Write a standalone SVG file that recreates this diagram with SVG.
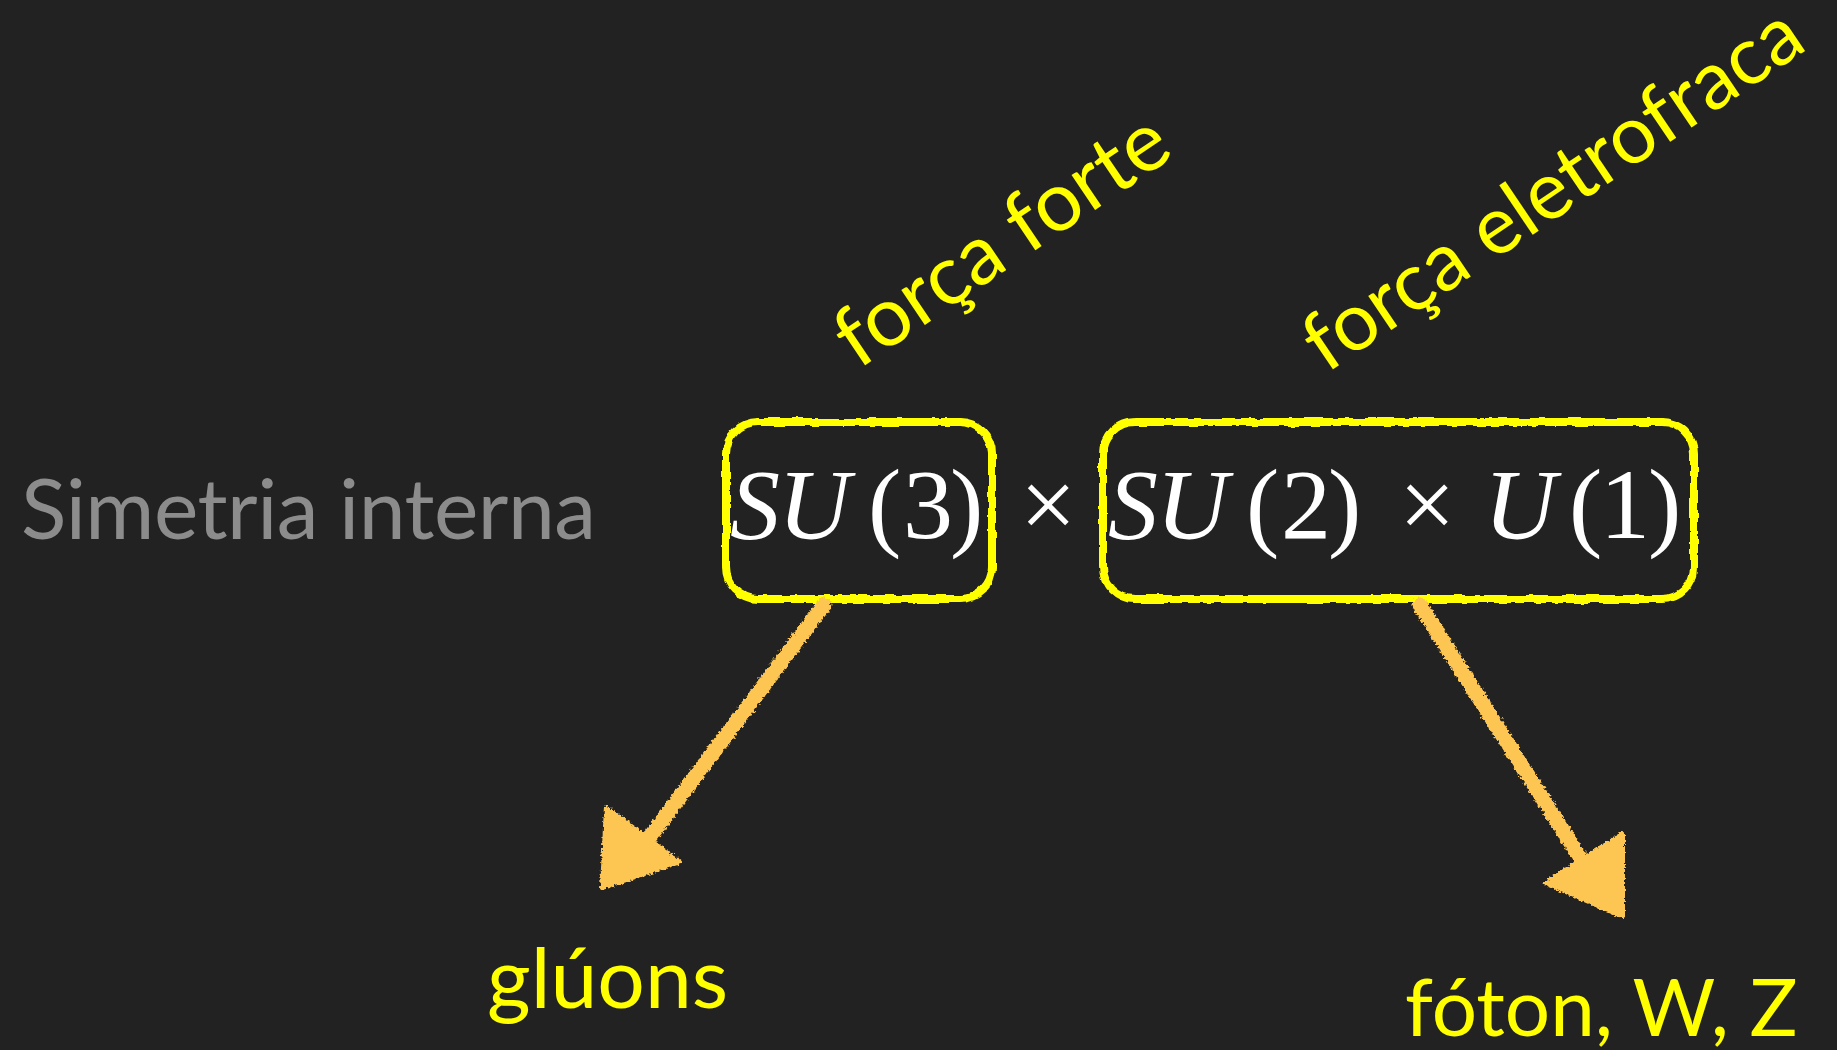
<svg xmlns="http://www.w3.org/2000/svg" width="1837" height="1050" viewBox="0 0 1837 1050">
<defs>
<style>
.lbl{font-family:Lato,"Noto Sans",sans-serif;fill:#ffff00}
.gray{font-family:Lato,"Noto Sans",sans-serif;fill:#8c8c8c}
.math{font-family:"Liberation Serif","Times New Roman",serif;fill:#ffffff;font-size:100px}
.it{font-style:italic}
.box{fill:none;stroke:#ffff00;stroke-width:8}
.shaft{stroke:#fdc652;stroke-width:15;stroke-linecap:round;fill:none}
.head{fill:#fdc652;stroke:#fdc652;stroke-width:4;stroke-linejoin:round}
</style>
<filter id="rough" x="-10%" y="-10%" width="120%" height="120%">
<feTurbulence type="fractalNoise" baseFrequency="0.08" numOctaves="2" seed="3" result="n"/>
<feDisplacementMap in="SourceGraphic" in2="n" scale="5" xChannelSelector="R" yChannelSelector="G"/>
</filter>
<filter id="chalk" x="-10%" y="-10%" width="120%" height="120%">
<feTurbulence type="fractalNoise" baseFrequency="0.35" numOctaves="2" seed="7" result="n"/>
<feDisplacementMap in="SourceGraphic" in2="n" scale="6" xChannelSelector="R" yChannelSelector="G"/>
</filter>
</defs>
<rect width="1837" height="1050" fill="#222222"/>

<g id="label-simetria">
<text class="gray" x="21" y="539" font-size="84" textLength="575">Simetria interna</text>
</g>

<g id="node-su3">
<rect class="box" x="726" y="422" width="266" height="177" rx="32" filter="url(#rough)"/>
<text class="math" y="538"><tspan class="it" x="730">S</tspan><tspan class="it" x="778">U</tspan><tspan x="868">(</tspan><tspan x="903">3</tspan><tspan x="950">)</tspan></text>
</g>

<g id="times-1">
<text class="math" x="1020" y="538">×</text>
</g>

<g id="node-su2u1">
<rect class="box" x="1103" y="422" width="591" height="177" rx="32" filter="url(#rough)"/>
<text class="math" y="538"><tspan class="it" x="1108">S</tspan><tspan class="it" x="1156">U</tspan><tspan x="1246">(</tspan><tspan x="1281">2</tspan><tspan x="1328">)</tspan><tspan x="1399">×</tspan><tspan class="it" x="1484">U</tspan><tspan x="1569">(</tspan><tspan x="1600">1</tspan><tspan x="1648">)</tspan></text>
</g>

<g id="label-forte">
<text class="lbl" font-size="83" transform="translate(858,370) rotate(-34)">força forte</text>
</g>

<g id="label-eletrofraca">
<text class="lbl" font-size="81" transform="translate(1326,374) rotate(-34)">força eletrofraca</text>
</g>

<g id="node-gluons">
<text class="lbl" x="487" y="1008" font-size="84">glúons</text>
</g>

<g id="node-foton">
<text class="lbl" x="1405" y="1036" font-size="80">fóton, W, Z</text>
</g>

<g id="connectors" filter="url(#chalk)">
<line class="shaft" x1="824" y1="605" x2="640" y2="850"/>
<polygon class="head" points="602,888 606,807 680,862"/>
<line class="shaft" x1="1420" y1="605" x2="1588" y2="870"/>
<polygon class="head" points="1623,917 1623,833 1545,883"/>
</g>
</svg>
